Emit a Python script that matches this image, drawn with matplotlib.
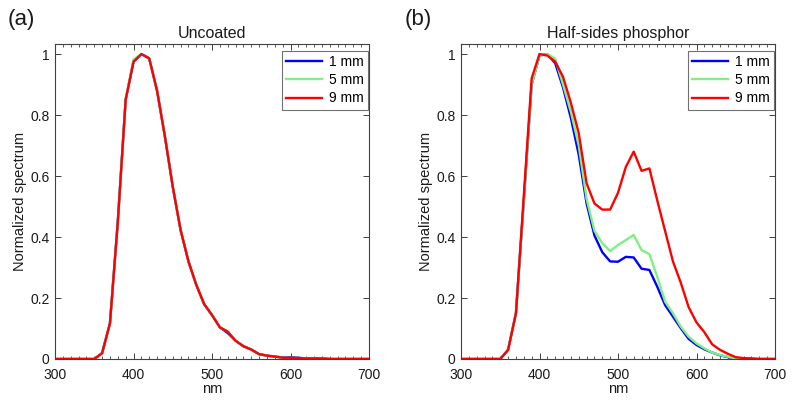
import numpy as np
import matplotlib
matplotlib.use("Agg")
import matplotlib.pyplot as plt
from matplotlib.ticker import MultipleLocator, FuncFormatter

plt.rcParams['font.family'] = ['Liberation Sans', 'DejaVu Sans']

wavelength = list(range(300, 701, 10))

# Panel (a): Uncoated
unc_1mm = [0, 0, 0, 0, 0, 0, 0.019, 0.117, 0.45, 0.85, 0.975, 1.0, 0.986, 0.88, 0.73,
           0.565, 0.423, 0.32, 0.243, 0.18, 0.144, 0.104, 0.085, 0.06, 0.042, 0.031, 0.016,
           0.011, 0.008, 0.005, 0.006, 0.004, 0.002, 0.002, 0.002, 0, 0, 0, 0, 0, 0]
unc_5mm = [0, 0, 0, 0, 0, 0, 0.019, 0.117, 0.45, 0.85, 0.982, 1.0, 0.986, 0.88, 0.73,
           0.565, 0.423, 0.32, 0.243, 0.18, 0.144, 0.104, 0.09, 0.06, 0.042, 0.031, 0.016,
           0.011, 0.008, 0.004, 0.004, 0.003, 0.002, 0.002, 0.002, 0, 0, 0, 0, 0, 0]
unc_9mm = [0, 0, 0, 0, 0, 0, 0.019, 0.117, 0.45, 0.85, 0.975, 1.0, 0.986, 0.88, 0.73,
           0.565, 0.423, 0.32, 0.243, 0.18, 0.144, 0.104, 0.09, 0.06, 0.042, 0.031, 0.016,
           0.011, 0.008, 0.004, 0.004, 0.003, 0.002, 0.002, 0.002, 0, 0, 0, 0, 0, 0]

# Panel (b): Half-sides phosphor
hs_1mm = [0, 0, 0, 0, 0, 0, 0.03, 0.15, 0.52, 0.9, 0.995, 1.0, 0.97, 0.89, 0.79,
          0.67, 0.51, 0.405, 0.35, 0.32, 0.319, 0.335, 0.333, 0.296, 0.292, 0.237, 0.177,
          0.139, 0.101, 0.066, 0.046, 0.032, 0.021, 0.012, 0.006, 0.001, 0, 0, 0, 0, 0]
hs_5mm = [0, 0, 0, 0, 0, 0, 0.03, 0.15, 0.52, 0.9, 0.995, 1.0, 0.985, 0.90, 0.81,
          0.70, 0.525, 0.42, 0.38, 0.354, 0.374, 0.39, 0.407, 0.357, 0.344, 0.27, 0.188,
          0.15, 0.106, 0.073, 0.051, 0.035, 0.021, 0.013, 0.007, 0.002, 0, 0, 0, 0, 0]
hs_9mm = [0, 0, 0, 0, 0, 0, 0.03, 0.15, 0.535, 0.92, 1.0, 0.995, 0.975, 0.925, 0.84,
          0.74, 0.576, 0.51, 0.49, 0.49, 0.545, 0.63, 0.68, 0.617, 0.625, 0.52, 0.42,
          0.32, 0.25, 0.17, 0.12, 0.088, 0.048, 0.03, 0.017, 0.006, 0.003, 0.002, 0, 0, 0]

labels = ['1 mm', '5 mm', '9 mm']
colors = ['#0000ff', '#80f080', '#ff0000']
titles = ['Uncoated', 'Half-sides phosphor']
panel_tags = ['(a)', '(b)']
series = [[unc_1mm, unc_5mm, unc_9mm], [hs_1mm, hs_5mm, hs_9mm]]

W, H = 798, 403
fig = plt.figure(figsize=(W / 100, H / 100), dpi=100)
fs = 10.5
frame_col = '#404040'
txt_col = '#1a1a1a'

ax_lefts = [55, 461]
tag_x = [8, 405]
for i in range(2):
    ax = fig.add_axes([ax_lefts[i] / W, 1 - 359 / H, 314 / W, 315 / H])
    for ys, lab, c in zip(series[i], labels, colors):
        ax.plot(wavelength, ys, color=c, lw=1.7, label=lab)
    ax.set_xlim(300, 700)
    ax.set_ylim(0, 1.033)
    ax.set_xticks([300, 400, 500, 600, 700])
    ax.set_yticks([0, 0.2, 0.4, 0.6, 0.8, 1.0])
    ax.yaxis.set_major_formatter(FuncFormatter(lambda v, p: ('%g' % round(v, 2))))
    ax.xaxis.set_minor_locator(MultipleLocator(10))
    ax.tick_params(which='both', direction='in', top=True, right=True,
                   labelsize=10, colors=frame_col, labelcolor=txt_col)
    ax.tick_params(which='major', length=4, width=0.7, pad=4)
    ax.tick_params(axis='x', which='major', pad=6.5)
    ax.tick_params(which='minor', length=2, width=0.6)
    for s in ax.spines.values():
        s.set_color(frame_col)
        s.set_linewidth(0.8)
    ax.set_title(titles[i], fontsize=11.5, color=txt_col, pad=4)
    ax.set_xlabel('nm', fontsize=fs, color=txt_col, labelpad=0)
    ax.set_ylabel('Normalized spectrum', fontsize=fs, color=txt_col, labelpad=2)
    leg = ax.legend(loc='upper right', bbox_to_anchor=(0.997, 0.978), borderaxespad=0,
                    fontsize=10, handlelength=2.6, handletextpad=0.5, labelspacing=0.3,
                    borderpad=0.3, fancybox=False, framealpha=1)
    leg.get_frame().set_edgecolor('#707070')
    leg.get_frame().set_linewidth(0.8)
    fig.text(tag_x[i] / W, 1 - 19 / H, panel_tags[i], fontsize=16, va='center',
             ha='left', color=txt_col)

fig.savefig('out.png', dpi=100)
